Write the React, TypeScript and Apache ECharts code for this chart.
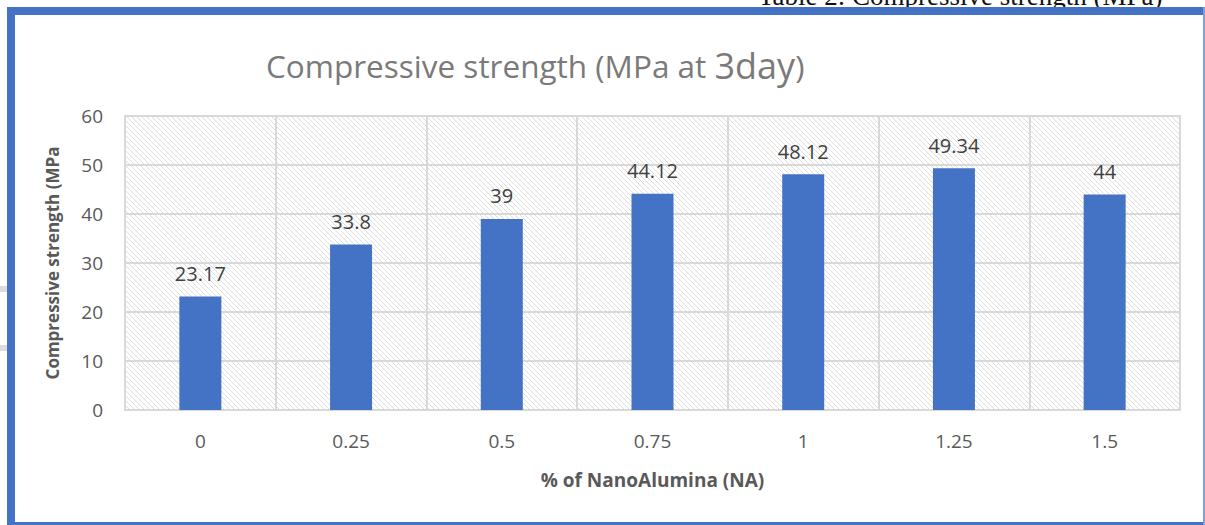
import React, { useEffect, useRef } from "react";
import * as echarts from "echarts";

const categories = ["0", "0.25", "0.5", "0.75", "1", "1.25", "1.5"];
const strengths = [23.17, 33.8, 39, 44.12, 48.12, 49.34, 44];
const yTicks = { min: 0, max: 60, interval: 10 };

function makeHatch(): string {
  const c = document.createElement("canvas");
  const n = 5;
  c.width = n;
  c.height = n;
  const ctx = c.getContext("2d")!;
  ctx.fillStyle = "#ffffff";
  ctx.fillRect(0, 0, n, n);
  ctx.fillStyle = "#dedede";
  for (let i = 0; i < n; i++) ctx.fillRect(i, i, 1, 1);
  return c.toDataURL();
}

export default function App() {
  const ref = useRef<HTMLDivElement>(null);
  useEffect(() => {
    if (!ref.current) return;
    const chart = echarts.init(ref.current, null, { renderer: "svg" });
    const font = "'Open Sans', 'Noto Sans', sans-serif";
    chart.setOption({
      animation: false,
      backgroundColor: "#ffffff",
      textStyle: { fontFamily: font },
      title: {
        text: "{a|Compressive strength (MPa at }{b|3day}{a|)}",
        left: 261,
        top: 42,
        textStyle: {
          fontWeight: "normal",
          rich: {
            a: { fontSize: 31.5, color: "#7a7a7a", fontFamily: font, fontWeight: "normal" },
            b: { fontSize: 36, color: "#7a7a7a", fontFamily: font, fontWeight: "normal" },
          },
        },
      },
      grid: {
        left: 125,
        right: 25,
        top: 116,
        bottom: 115,
        show: true,
        borderColor: "#d9d9d9",
        borderWidth: 2,
        backgroundColor: { image: makeHatch(), repeat: "repeat" },
      },
      xAxis: {
        type: "category",
        data: categories,
        name: "% of NanoAlumina (NA)",
        nameLocation: "middle",
        nameGap: 60,
        nameTextStyle: { fontSize: 19, fontWeight: "bold", color: "#595959", fontFamily: font },
        axisLine: { show: true, lineStyle: { color: "#d9d9d9", width: 2 } },
        axisTick: { show: false },
        axisLabel: { fontSize: 19, color: "#595959", margin: 21 },
        splitLine: { show: true, interval: 0, lineStyle: { color: "#d9d9d9", width: 2 } },
      },
      yAxis: {
        type: "value",
        min: yTicks.min,
        max: yTicks.max,
        interval: yTicks.interval,
        name: "Compressive strength (MPa",
        nameLocation: "middle",
        nameGap: 64,
        nameTextStyle: { fontSize: 17, fontWeight: "bold", color: "#595959", fontFamily: font },
        axisLine: { show: false },
        axisTick: { show: false },
        axisLabel: { fontSize: 19, color: "#595959", margin: 22 },
        splitLine: { show: true, lineStyle: { color: "#d9d9d9", width: 2 } },
      },
      series: [
        {
          type: "bar",
          data: strengths,
          barWidth: 42,
          itemStyle: { color: "#4472C4" },
          label: {
            show: true,
            position: "top",
            distance: 13,
            fontSize: 20,
            color: "#404040",
            fontFamily: font,
          },
        },
      ],
      graphic: [
        { type: "rect", shape: { x: 7, y: 7, width: 8, height: 518 }, style: { fill: "#4472C4" }, z: 100 },
        { type: "rect", shape: { x: 7, y: 7, width: 1198, height: 8 }, style: { fill: "#4472C4" }, z: 100 },
        { type: "rect", shape: { x: 7, y: 522, width: 1198, height: 3 }, style: { fill: "#4472C4" }, z: 100 },
        { type: "rect", shape: { x: 1203, y: 7, width: 2, height: 518 }, style: { fill: "#7fa0dc" }, z: 100 },
        { type: "rect", shape: { x: 0, y: 286, width: 7, height: 6 }, style: { fill: "#dcdcdc" }, z: 100 },
        { type: "rect", shape: { x: 0, y: 345, width: 7, height: 6 }, style: { fill: "#dcdcdc" }, z: 100 },
        {
          type: "text",
          x: 758,
          y: -18,
          style: {
            text: "Table 2: Compressive strength (MPa)",
            fontSize: 27,
            fontFamily: "'Liberation Serif', 'Times New Roman', serif",
            fill: "#111111",
          },
          z: 90,
        },
      ],
    });
    return () => chart.dispose();
  }, []);
  return (
    <div
      ref={ref}
      style={{ position: "absolute", left: 0, top: 0, width: 1205, height: 525 }}
    />
  );
}
